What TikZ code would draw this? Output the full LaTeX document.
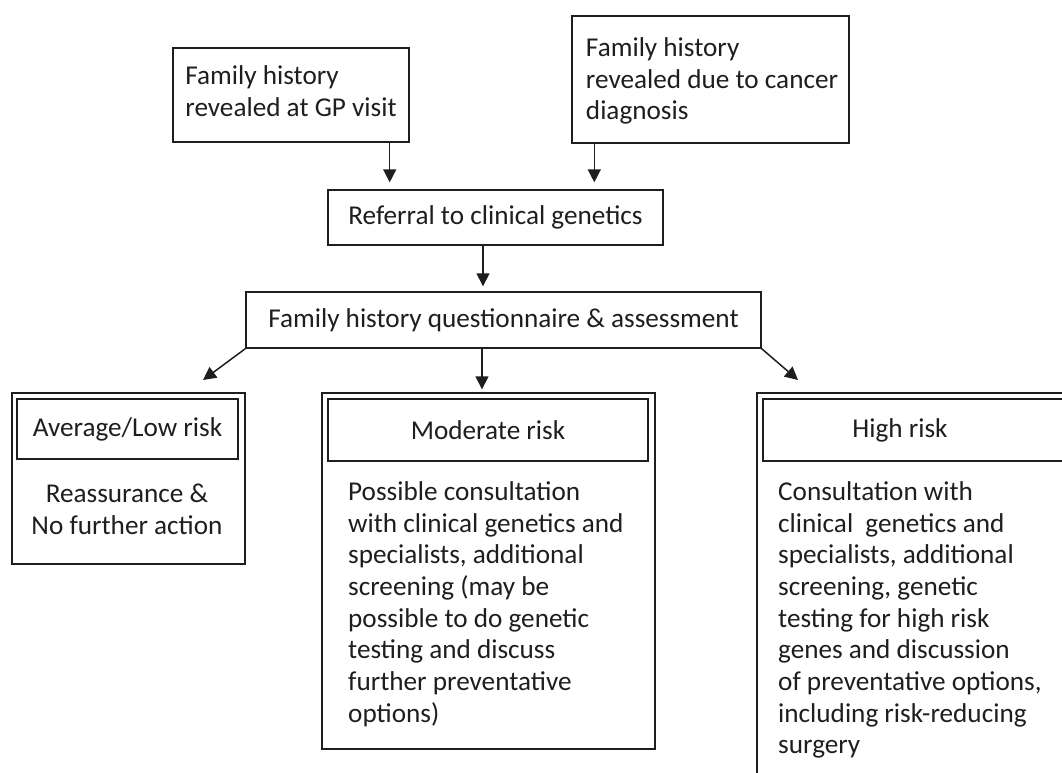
\documentclass[tikz,border=0pt]{standalone}
\usepackage{fontspec}
\setmainfont{Carlito}
\usetikzlibrary{arrows.meta,calc}
\definecolor{ink}{HTML}{1E1E1E}
\newcommand\diafont{\fontsize{27.2}{31.7}\selectfont}
\begin{document}
\begin{tikzpicture}[x=1pt,y=-1pt,
  box/.style={draw=ink,line width=1.4pt,inner sep=0pt,font=\diafont,text=ink},
  txt/.style={inner sep=0pt,font=\diafont,text=ink},
  arr/.style={draw=ink,line width=1.5pt,-{Triangle[length=13pt,width=13pt]}}]
\useasboundingbox (0,0) rectangle (1062,772);
\clip (0,0) rectangle (1062,772);
% top boxes
\node[box,minimum width=236pt,minimum height=94pt] (gp) at (291,95) {};
\node[txt,align=left] (gpt) at (291,91.5) {Family history\\revealed at GP visit};
\node[box,minimum width=277pt,minimum height=127pt] (can) at (710.5,79.5) {};
\node[txt,align=left] (cant) at (712,81) {Family history\\revealed due to cancer\\diagnosis};
\node[box,minimum width=335pt,minimum height=55pt] (ref) at (495.5,217.5) {Referral to clinical genetics};
\node[box,minimum width=515pt,minimum height=56pt] (fh) at (503.5,320) {Family history questionnaire \& assessment};
% low risk
\node[box,minimum width=233pt,minimum height=171pt] (low) at (128.5,478.5) {};
\node[box,minimum width=221pt,minimum height=60pt] (lowt) at (127.5,429) {Average/Low risk};
\node[txt,align=center] (lowb) at (127,509) {Reassurance \&\\No further action};
% moderate risk
\node[box,minimum width=333pt,minimum height=356pt] (mod) at (488.5,571) {};
\node[box,minimum width=320pt,minimum height=62pt] (modt) at (488,430) {Moderate risk};
\node[txt,anchor=west,align=left] (modb) at (348,604) {Possible consultation\\with clinical genetics and\\specialists, additional\\screening (may be\\possible to do genetic\\testing and discuss\\further preventative\\options)};
% high risk
\node[box,minimum width=333pt,minimum height=407pt] (high) at (923.5,596.5) {};
\node[box,minimum width=327pt,minimum height=62pt] (hight) at (926.5,430) {};
\node[txt] (hightxt) at (900,430) {High risk};
\node[txt,anchor=west,align=left] (highb) at (778,620) {Consultation with\\clinical\ \ genetics and\\specialists, additional\\screening, genetic\\testing for high risk\\genes and discussion\\of preventative options,\\including risk-reducing\\surgery};
% connectors
\coordinate (g1) at ([xshift=-20pt]gp.south east);
\draw[arr,shorten >=7pt] (g1) -- (g1 |- ref.north);
\coordinate (c1) at ([xshift=23pt]can.south west);
\draw[arr,shorten >=7pt] (c1) -- (c1 |- ref.north);
\coordinate (r1) at ([xshift=-12.5pt]ref.south);
\draw[arr,shorten >=5pt] (r1) -- (r1 |- fh.north);
\coordinate (m1) at ([xshift=-21.5pt]fh.south);
\draw[arr,shorten >=3pt] (m1) -- (m1 |- mod.north);
\coordinate (lowin) at (203,380);
\draw[arr] (fh.south west) -- (lowin);
\coordinate (highin) at (798,380);
\draw[arr] (fh.south east) -- (highin);
\end{tikzpicture}
\end{document}
